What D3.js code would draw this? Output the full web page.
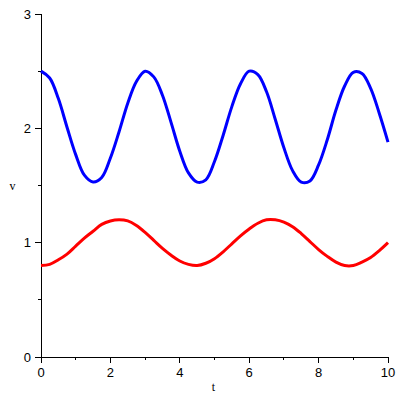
<!DOCTYPE html>
<html>
<head>
<meta charset="utf-8">
<script src="https://cdn.jsdelivr.net/npm/d3@7"></script>
<style>
  body { margin: 0; background: #fff; }
  svg { display: block; }
  .tick-label { font-family: "Liberation Sans", Arial, sans-serif; font-size: 13px; fill: #000; }
  .axis-title { font-family: "Liberation Serif", "Times New Roman", serif; font-size: 12px; fill: #000; }
</style>
</head>
<body>
<div id="chart"></div>
<script>
var tValues = d3.range(0, 10.001, 0.25);

var blueValues = [2.50, 2.44, 2.26, 2.01, 1.77, 1.59, 1.53, 1.57, 1.74, 1.97,
                  2.22, 2.41, 2.50, 2.45, 2.29, 2.05, 1.80, 1.61, 1.53, 1.55,
                  1.71, 1.94, 2.19, 2.39, 2.50, 2.47, 2.32, 2.08, 1.83, 1.63,
                  1.53, 1.54, 1.68, 1.90, 2.16, 2.37, 2.49, 2.48, 2.35, 2.13,
                  1.88];

var redValues = [0.80, 0.81, 0.85, 0.90, 0.97, 1.04, 1.10, 1.16, 1.19, 1.20,
                 1.19, 1.15, 1.09, 1.02, 0.95, 0.89, 0.84, 0.81, 0.80, 0.82,
                 0.86, 0.92, 0.99, 1.06, 1.12, 1.17, 1.20, 1.20, 1.18, 1.14,
                 1.08, 1.01, 0.94, 0.88, 0.83, 0.80, 0.80, 0.83, 0.87, 0.93,
                 1.00];

var xMajorTicks = [0, 2, 4, 6, 8, 10];
var xMinorTicks = [1, 3, 5, 7, 9];
var yMajorTicks = [0, 1, 2, 3];
var yMinorTicks = [0.5, 1.5, 2.5];

var width = 400, height = 400;

var svg = d3.select("#chart")
  .append("svg")
  .attr("width", width)
  .attr("height", height);

var x = d3.scaleLinear().domain([0, 10]).range([41, 388]);
var y = d3.scaleLinear().domain([0, 3]).range([357, 14]);

// y axis line + ticks
svg.append("line")
  .attr("x1", x(0)).attr("x2", x(0))
  .attr("y1", y(3)).attr("y2", y(0))
  .attr("stroke", "#000").attr("stroke-width", 1)
  .attr("shape-rendering", "crispEdges");

svg.selectAll(".ymaj")
  .data(yMajorTicks)
  .enter()
  .append("line")
  .attr("class", "ymaj")
  .attr("x1", x(0) - 6).attr("x2", x(0))
  .attr("y1", function (d) { return y(d); })
  .attr("y2", function (d) { return y(d); })
  .attr("stroke", "#000")
  .attr("shape-rendering", "crispEdges");

svg.selectAll(".ymin")
  .data(yMinorTicks)
  .enter()
  .append("line")
  .attr("class", "ymin")
  .attr("x1", x(0) - 3).attr("x2", x(0))
  .attr("y1", function (d) { return y(d); })
  .attr("y2", function (d) { return y(d); })
  .attr("stroke", "#000")
  .attr("shape-rendering", "crispEdges");

svg.selectAll(".ylab")
  .data(yMajorTicks)
  .enter()
  .append("text")
  .attr("class", "tick-label")
  .attr("x", 31)
  .attr("y", function (d) { return y(d); })
  .attr("dy", "0.36em")
  .attr("text-anchor", "end")
  .text(function (d) { return d; });

// x axis line + ticks
svg.append("line")
  .attr("x1", x(0)).attr("x2", x(10))
  .attr("y1", y(0)).attr("y2", y(0))
  .attr("stroke", "#000").attr("stroke-width", 1)
  .attr("shape-rendering", "crispEdges");

svg.selectAll(".xmaj")
  .data(xMajorTicks)
  .enter()
  .append("line")
  .attr("class", "xmaj")
  .attr("x1", function (d) { return x(d); })
  .attr("x2", function (d) { return x(d); })
  .attr("y1", y(0)).attr("y2", y(0) + 6)
  .attr("stroke", "#000")
  .attr("shape-rendering", "crispEdges");

svg.selectAll(".xmin")
  .data(xMinorTicks)
  .enter()
  .append("line")
  .attr("class", "xmin")
  .attr("x1", function (d) { return x(d); })
  .attr("x2", function (d) { return x(d); })
  .attr("y1", y(0)).attr("y2", y(0) + 3)
  .attr("stroke", "#000")
  .attr("shape-rendering", "crispEdges");

svg.selectAll(".xlab")
  .data(xMajorTicks)
  .enter()
  .append("text")
  .attr("class", "tick-label")
  .attr("x", function (d) { return x(d); })
  .attr("y", 377)
  .attr("text-anchor", "middle")
  .text(function (d) { return d; });

// axis titles
svg.append("text")
  .attr("class", "axis-title")
  .attr("x", 213.5).attr("y", 391)
  .attr("text-anchor", "middle")
  .text("t");

svg.append("text")
  .attr("class", "axis-title")
  .attr("x", 12.5).attr("y", 190)
  .attr("text-anchor", "middle")
  .text("v");

// curves
var line = d3.line()
  .x(function (d) { return x(d[0]); })
  .y(function (d) { return y(d[1]); })
  .curve(d3.curveCatmullRom);

svg.append("path")
  .datum(d3.zip(tValues, redValues))
  .attr("d", line)
  .attr("fill", "none")
  .attr("stroke", "#ff0000")
  .attr("stroke-width", 3);

svg.append("path")
  .datum(d3.zip(tValues, blueValues))
  .attr("d", line)
  .attr("fill", "none")
  .attr("stroke", "#0000ff")
  .attr("stroke-width", 3);
</script>
</body>
</html>
